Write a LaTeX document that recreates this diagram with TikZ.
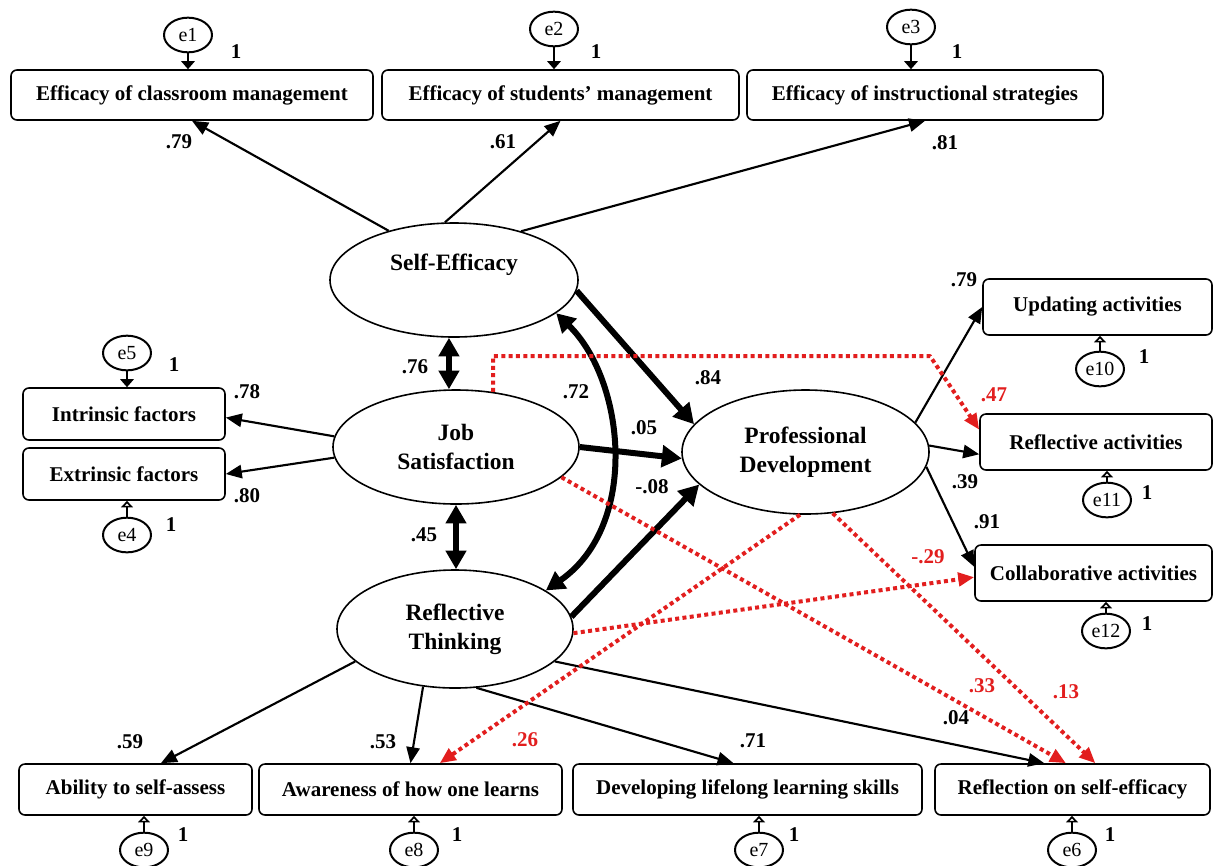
\documentclass[tikz,border=0pt]{standalone}
\usepackage{fontspec}
\setmainfont{Liberation Serif}
\usetikzlibrary{arrows.meta,shapes.geometric}
\definecolor{pathred}{RGB}{226,30,30}
\tikzstyle{every picture}+=[x=0.75pt,y=-0.75pt]
\tikzstyle{every picture}+=[line join=round]
\tikzstyle{obs}=[draw,rounded corners=4.5pt,line width=1.2pt,inner sep=0pt,font=\fontsize{15.75}{18}\selectfont\bfseries]
\tikzstyle{latent}=[draw,ellipse,line width=1.2pt,inner sep=0pt,align=center,font=\fontsize{17.6}{21.5}\selectfont\bfseries]
\tikzstyle{lattext}=[inner sep=0pt,font=\fontsize{17.6}{21.5}\selectfont\bfseries]
\tikzstyle{err}=[draw,ellipse,line width=1.5pt,minimum width=36pt,minimum height=26pt,inner sep=0pt,font=\fontsize{15}{17}\selectfont]
\tikzstyle{coef}=[inner sep=0pt,font=\fontsize{15.75}{18}\selectfont\bfseries]
\tikzstyle{redcoef}=[coef,text=pathred]
\tikzstyle{load}=[line width=1.6pt,-{Triangle[length=12pt,width=10pt]}]
\tikzstyle{strong}=[line width=4.5pt,-{Triangle[length=15pt,width=16pt]}]
\tikzstyle{corr}=[line width=4.5pt,{Triangle[length=14pt,width=15pt]}-{Triangle[length=14pt,width=15pt]}]
\tikzstyle{indirect}=[pathred,line width=3pt,dash pattern=on 3pt off 2.5pt,-{Triangle[length=12pt,width=10pt]}]
\tikzstyle{errdown}=[line width=1.5pt,-{Triangle[length=6pt,width=10pt]}]
\tikzstyle{errup}=[line width=1.4pt,-{Triangle[open,length=5pt,width=9pt]}]

\begin{document}
\begin{tikzpicture}
\useasboundingbox (0,0) rectangle (1216,865);

\node[obs,minimum width=271.5pt,minimum height=37.5pt] (ecm) at (192,95) {Efficacy of classroom management};
\node[obs,minimum width=267.75pt,minimum height=37.5pt] (esm) at (560.5,95) {Efficacy of students' management};
\node[obs,minimum width=267pt,minimum height=37.5pt] (eis) at (925,95) {Efficacy of instructional strategies};
\node[obs,minimum width=151.5pt,minimum height=39pt] (intr) at (124,414) {Intrinsic factors};
\node[obs,minimum width=151.5pt,minimum height=39pt] (extr) at (124,474) {Extrinsic factors};
\node[obs,minimum width=171.75pt,minimum height=42pt] (upd) at (1097.5,307) {Updating activities};
\node[obs,minimum width=174pt,minimum height=42pt] (refa) at (1096,442) {Reflective activities};
\node[obs,minimum width=177.75pt,minimum height=42pt] (coll) at (1093.5,573) {Collaborative activities};
\node[obs,minimum width=174.75pt,minimum height=38.25pt] (abil) at (135.5,789.5) {Ability to self-assess};
\node[obs,minimum width=227.25pt,minimum height=38.25pt] (aware) at (410.5,789.5) {Awareness of how one learns};
\node[obs,minimum width=261.75pt,minimum height=38.25pt] (dev) at (747.5,789.5) {Developing lifelong learning skills};
\node[obs,minimum width=206.25pt,minimum height=38.25pt] (rse) at (1072.5,789.5) {Reflection on self-efficacy};

\node[latent,minimum width=186pt,minimum height=85.5pt] (se) at (454,280) {};
\node[lattext] (se-txt) at (454,265) {Self-Efficacy};
\node[latent,minimum width=184.5pt,minimum height=85.5pt] (js) at (456,447) {Job\\Satisfaction};
\node[latent,minimum width=177pt,minimum height=88.5pt] (rt) at (455,629) {Reflective\\Thinking};
\node[latent,minimum width=185.25pt,minimum height=93pt] (pd) at (805.5,452) {Professional\\Development};

\node[err] (e1) at (188,35) {e1};
\node[err] (e2) at (554,29) {e2};
\node[err] (e3) at (911,27) {e3};
\node[err] (e5) at (127,353) {e5};
\node[err] (e4) at (127,535) {e4};
\node[err] (e10) at (1100,369) {e10};
\node[err] (e11) at (1107,500) {e11};
\node[err] (e12) at (1106,631) {e12};
\node[err] (e9) at (144,850) {e9};
\node[err] (e8) at (414,850) {e8};
\node[err] (e7) at (759,850) {e7};
\node[err] (e6) at (1072,850) {e6};

\draw[errdown] (e1.south) -- (e1.south |- ecm.north);
\draw[errdown] (e2.south) -- (e2.south |- esm.north);
\draw[errdown] (e3.south) -- (e3.south |- eis.north);
\draw[errdown] (e5.south) -- (e5.south |- intr.north);
\draw[errup] (e4.north) -- (e4.north |- extr.south);
\draw[errup] (e10.north) -- (e10.north |- upd.south);
\draw[errup] (e11.north) -- (e11.north |- refa.south);
\draw[errup] (e12.north) -- (e12.north |- coll.south);
\draw[errup] (e9.north) -- (e9.north |- abil.south);
\draw[errup] (e8.north) -- (e8.north |- aware.south);
\draw[errup] (e7.north) -- (e7.north |- dev.south);
\draw[errup] (e6.north) -- (e6.north |- rse.south);

\node[coef] (one1) at (236,52) {1};
\node[coef] (one2) at (596,52) {1};
\node[coef] (one3) at (957,52) {1};
\node[coef] (one5) at (174,365) {1};
\node[coef] (one4) at (171,525) {1};
\node[coef] (one10) at (1144,357) {1};
\node[coef] (one11) at (1147,493) {1};
\node[coef] (one12) at (1147,624) {1};
\node[coef] (one9) at (183,835) {1};
\node[coef] (one8) at (457,835) {1};
\node[coef] (one7) at (794,835) {1};
\node[coef] (one6) at (1110,835) {1};

\draw[load] (se.143) -- (ecm.south);
\draw[load] (se.99) -- (esm.south);
\draw[load] (se.36) -- (eis.south);
\draw[load] (js.175) -- (intr.-2);
\draw[load] (js.185) -- (extr.east);
\draw[load] (pd.15) -- (upd.west);
\draw[load] (pd.3) -- (refa.186);
\draw[load] (pd.-7) -- (coll.177);
\draw[load] (rt.198) -- (abil.46);
\draw[load] (rt.241) -- (aware.north);
\draw[load] (rt.290) -- (dev.118);
\draw[load] (rt.-18) -- (rse.137);

\draw[corr] (se.265) -- (se.265 |- js.north);
\draw[corr] (js.south) -- (js.south |- rt.north);
\draw[corr] (se.-18) .. controls (625,380) and (640,525) .. (rt.23);
\draw[strong] (se.-5) -- (pd.166);
\draw[strong] (js.east) -- (pd.183);
\draw[strong] (rt.6) -- (pd.197);

\coordinate (knee) at (930,356);
\draw[indirect] (js.56) |- (knee) -- (refa.174);
\draw[indirect] (js.-16) -- (rse.104);
\draw[indirect] (pd.265) -- (aware.42);
\draw[indirect] (pd.-66) -- (rse.49);
\draw[indirect] (rt.-2) -- (coll.182);

\node[coef] (c-ecm) at (179,142) {.79};
\node[coef] (c-esm) at (503,142) {.61};
\node[coef] (c-eis) at (945,143) {.81};
\node[coef] (c-sejs) at (415,367) {.76};
\node[coef] (c-sert) at (576,392) {.72};
\node[coef] (c-sepd) at (708,378) {.84};
\node[coef] (c-jspd) at (644,428) {.05};
\node[coef] (c-rtpd) at (652,487) {-.08};
\node[coef] (c-jsrt) at (424,535) {.45};
\node[coef] (c-intr) at (247,392) {.78};
\node[coef] (c-extr) at (247,496) {.80};
\node[coef] (c-upd) at (964,280) {.79};
\node[redcoef] (c-refa2) at (994,395) {.47};
\node[coef] (c-refa) at (965,482) {.39};
\node[coef] (c-coll) at (987,522) {.91};
\node[redcoef] (c-coll2) at (928,557) {-.29};
\node[coef] (c-abil) at (130,742) {.59};
\node[coef] (c-aware) at (383,742) {.53};
\node[redcoef] (c-aware2) at (525,740) {.26};
\node[coef] (c-dev) at (753,741) {.71};
\node[coef] (c-rse) at (956,718) {.04};
\node[redcoef] (c-rse2) at (982,686) {.33};
\node[redcoef] (c-rse3) at (1066,692) {.13};
\end{tikzpicture}
\end{document}
